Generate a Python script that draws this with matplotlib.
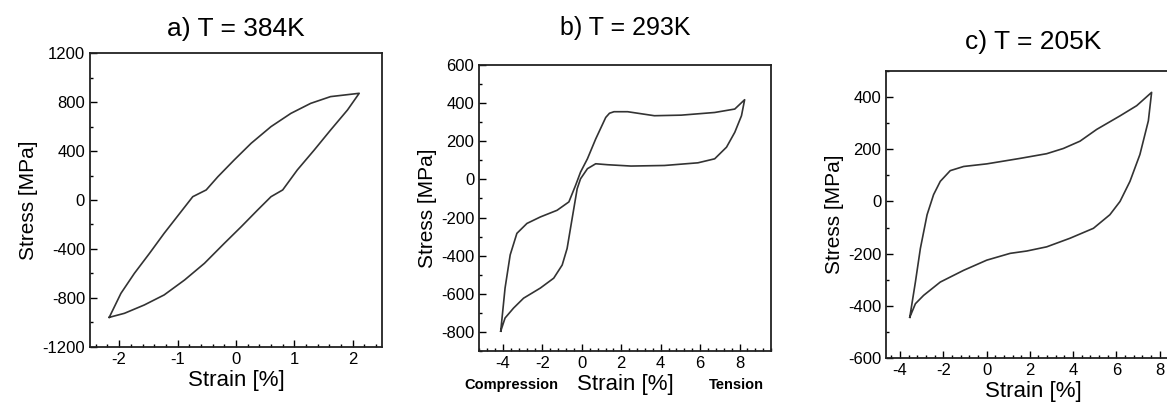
import numpy as np
import matplotlib.pyplot as plt
from matplotlib.ticker import MultipleLocator

plt.rcParams['font.family'] = ['Liberation Sans', 'DejaVu Sans']
plt.rcParams['axes.unicode_minus'] = False

# ---------- a) T = 384K : loading branch then unloading branch ----------
a_strain = [-2.17, -1.97, -1.74, -1.48, -1.23, -0.94, -0.74, -0.51, -0.31, -0.03,
            0.26, 0.60, 0.94, 1.28, 1.62, 2.11,
            1.91, 1.62, 1.34, 1.05, 0.80, 0.60, 0.37, 0.09, -0.20, -0.54,
            -0.88, -1.23, -1.57, -1.91, -2.17]
a_stress = [-958, -762, -599, -435, -272, -95, 27, 82, 190, 327,
            463, 599, 707, 789, 844, 871,
            735, 571, 408, 245, 82, 27, -82, -218, -354, -517,
            -653, -775, -857, -925, -958]

# ---------- b) T = 293K ----------
b_strain = [-4.12, -3.90, -3.64, -3.30, -2.79, -2.11, -1.26, -0.66, -0.32, -0.07,
            0.28, 0.70, 1.21, 1.40, 1.63, 2.32, 3.68, 5.04, 6.74, 7.76, 8.26,
            8.10, 7.76, 7.34, 6.74, 5.89, 4.19, 2.49, 1.30, 0.70, 0.28, -0.07,
            -0.24, -0.41, -0.58, -0.75, -1.00, -1.43, -2.11, -2.96, -3.47,
            -3.90, -4.12]
b_stress = [-796, -570, -396, -283, -231, -197, -162, -118, -31, 38,
            108, 212, 325, 347, 355, 355, 334, 337, 351, 369, 418,
            334, 247, 169, 108, 87, 73, 70, 77, 82, 56, 3,
            -49, -153, -257, -362, -449, -518, -570, -623, -675,
            -727, -796]

# ---------- c) T = 205K ----------
c_strain = [-3.55, -3.29, -3.06, -2.75, -2.45, -2.14, -1.68, -1.06, 0.01, 1.55,
            2.78, 3.55, 4.32, 5.09, 6.17, 6.94, 7.63,
            7.48, 7.09, 6.63, 6.17, 5.70, 4.94, 3.86, 2.78, 1.86, 1.09,
            0.01, -1.06, -2.14, -2.91, -3.29, -3.55]
c_stress = [-444, -309, -180, -51, 26, 77, 118, 134, 144, 165,
            183, 203, 231, 276, 328, 367, 418,
            309, 180, 77, 0, -51, -103, -141, -174, -190, -199,
            -225, -264, -309, -360, -392, -444]

fig = plt.figure(figsize=(11.67, 4.04), dpi=100)

panels = [
    # rect, data, title, title size/pad, xlim, ylim, x major, x minor, y major, y minor
    ([0.0771, 0.1411, 0.2502, 0.7277], (a_strain, a_stress), "a) T = 384K", (19, 12.5),
     (-2.5, 2.5), (-1200, 1200), 1, 0.2, 400, 200),
    ([0.4105, 0.1312, 0.2502, 0.7079], (b_strain, b_stress), "b) T = 293K", (18, 21.5),
     (-5.22, 9.6), (-900, 600), 2, 0.4, 200, 100),
    ([0.7592, 0.1139, 0.2530, 0.7104], (c_strain, c_stress), "c) T = 205K", (19, 16),
     (-4.65, 9.0), (-600, 500), 2, 0.4, 200, 100),
]

axes = []
for rect, (xs, ys), title, (tsize, tpad), xlim, ylim, xmaj, xmin, ymaj, ymin in panels:
    ax = fig.add_axes(rect)
    ax.plot(xs, ys, color="#333333", lw=1.2)
    ax.set_xlim(*xlim)
    ax.set_ylim(*ylim)
    ax.xaxis.set_major_locator(MultipleLocator(xmaj))
    ax.xaxis.set_minor_locator(MultipleLocator(xmin))
    ax.yaxis.set_major_locator(MultipleLocator(ymaj))
    ax.yaxis.set_minor_locator(MultipleLocator(ymin))
    ax.tick_params(which="both", direction="in", labelsize=12, width=1.0)
    ax.tick_params(which="major", length=5)
    ax.tick_params(which="minor", length=2.5)
    for s in ax.spines.values():
        s.set_linewidth(1.3)
        s.set_color("#222222")
    ax.set_xlabel("Strain [%]", fontsize=16, labelpad=2)
    ax.set_ylabel("Stress [MPa]", fontsize=15, labelpad=3)
    ax.set_title(title, fontsize=tsize, pad=tpad)
    axes.append(ax)

# compression / tension markers under panel b
axes[1].text(0.11, -0.119, "Compression", transform=axes[1].transAxes,
             ha="center", va="center", fontsize=10.5, fontweight="bold")
axes[1].text(0.88, -0.119, "Tension", transform=axes[1].transAxes,
             ha="center", va="center", fontsize=10.5, fontweight="bold")

fig.savefig("out.png", dpi=100)
